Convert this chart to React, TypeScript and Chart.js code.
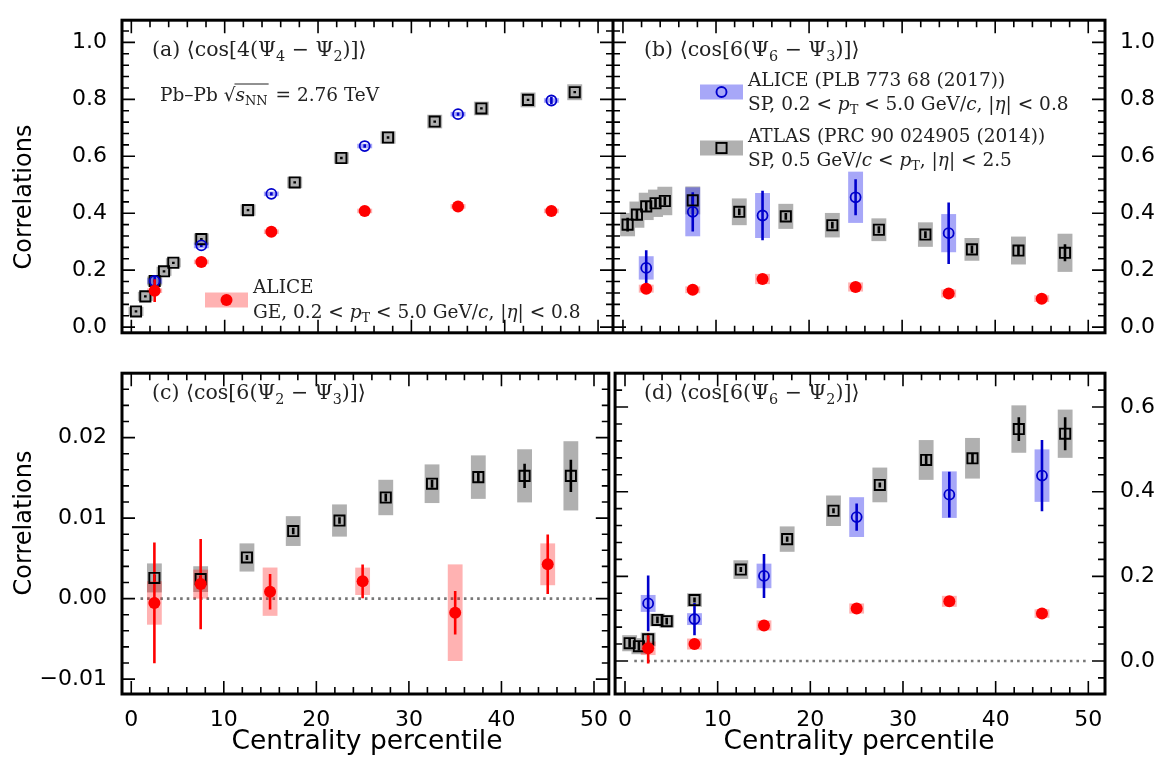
import React, { useEffect, useRef } from "react";
import { Chart, registerables } from "chart.js";
Chart.register(...registerables);

// ---------- data ----------
const centATLAS = [0.5, 1.5, 2.5, 3.5, 4.5, 7.5, 12.5, 17.5, 22.5, 27.5, 32.5, 37.5, 42.5, 47.5];
const centATLASc = [2.5, 7.5, 12.5, 17.5, 22.5, 27.5, 32.5, 37.5, 42.5, 47.5];
const centALICE = [2.5, 7.5, 15, 25, 35, 45];
const centALICEb = [2.5, 7.5, 15, 25, 35];

const aAtlas = [0.055, 0.108, 0.162, 0.196, 0.226, 0.309, 0.411, 0.508, 0.594, 0.666, 0.722, 0.768, 0.798, 0.825];
const aAtlasStat = [0.004, 0.004, 0.004, 0.004, 0.004, 0.004, 0.004, 0.004, 0.004, 0.004, 0.004, 0.004, 0.004, 0.004];
const aAtlasSys = [0.016, 0.016, 0.016, 0.016, 0.016, 0.02, 0.02, 0.02, 0.02, 0.022, 0.024, 0.024, 0.026, 0.028];
const aSP = [0.162, 0.287, 0.468, 0.636, 0.748, 0.796];
const aSPStat = [0.02, 0.006, 0.006, 0.006, 0.006, 0.012];
const aSPSys = [0.01, 0.01, 0.008, 0.008, 0.008, 0.008];
const aGE = [0.128, 0.229, 0.335, 0.408, 0.424, 0.408];
const aGEStat = [0.04, 0.004, 0.004, 0.004, 0.004, 0.004];
const aGESys = [0.008, 0.008, 0.008, 0.008, 0.008, 0.008];

const bAtlas = [0.36, 0.395, 0.424, 0.435, 0.443, 0.445, 0.405, 0.389, 0.358, 0.342, 0.325, 0.273, 0.269, 0.261];
const bAtlasStat = [0.024, 0.02, 0.018, 0.016, 0.016, 0.014, 0.012, 0.012, 0.012, 0.012, 0.012, 0.014, 0.016, 0.03];
const bAtlasSys = [0.041, 0.046, 0.048, 0.048, 0.05, 0.049, 0.047, 0.044, 0.043, 0.04, 0.043, 0.04, 0.049, 0.067];
const bSP = [0.208, 0.405, 0.392, 0.456, 0.33];
const bSPStat = [0.062, 0.069, 0.087, 0.063, 0.108];
const bSPSys = [0.041, 0.086, 0.079, 0.09, 0.067];
const bGE = [0.135, 0.131, 0.169, 0.141, 0.118, 0.1];
const bGEStat = [0.003, 0.003, 0.003, 0.003, 0.003, 0.003];
const bGESys = [0.014, 0.012, 0.018, 0.016, 0.014, 0.012];

const cAtlas = [0.00257, 0.00242, 0.00511, 0.00839, 0.0097, 0.01256, 0.01427, 0.01509, 0.01525, 0.01525];
const cAtlasStat = [0.0004, 0.0004, 0.0003, 0.0004, 0.0004, 0.0005, 0.0005, 0.0006, 0.0015, 0.002];
const cAtlasSys = [0.0018, 0.0016, 0.00175, 0.00185, 0.002, 0.0022, 0.0024, 0.0027, 0.0033, 0.0043];
const cGE = [-0.00054, 0.0018, 0.00086, 0.00215, -0.00175, 0.00426];
const cGEStat = [0.0075, 0.0056, 0.0022, 0.0021, 0.0027, 0.0037];
const cGESys = [0.0027, 0.0018, 0.003, 0.0017, 0.006, 0.0026];

const dAtlas = [0.042, 0.035, 0.051, 0.097, 0.094, 0.144, 0.216, 0.288, 0.355, 0.416, 0.475, 0.479, 0.548, 0.537];
const dAtlasStat = [0.01, 0.01, 0.008, 0.008, 0.008, 0.006, 0.006, 0.006, 0.006, 0.006, 0.012, 0.012, 0.028, 0.039];
const dAtlasSys = [0.019, 0.019, 0.016, 0.015, 0.015, 0.016, 0.022, 0.03, 0.036, 0.041, 0.047, 0.048, 0.056, 0.057];
const dSP = [0.136, 0.099, 0.201, 0.34, 0.393, 0.438];
const dSPStat = [0.066, 0.038, 0.052, 0.032, 0.054, 0.084];
const dSPSys = [0.02, 0.014, 0.029, 0.047, 0.055, 0.062];
const dGE = [0.03, 0.04, 0.084, 0.124, 0.141, 0.112];
const dGEStat = [0.036, 0.004, 0.004, 0.004, 0.004, 0.004];
const dGESys = [0.016, 0.013, 0.012, 0.012, 0.013, 0.01];

const xTicks = [0, 10, 20, 30, 40, 50];
const yTicksAB = [0, 0.2, 0.4, 0.6, 0.8, 1.0];
const yTicksC = [-0.01, 0, 0.01, 0.02];
const yTicksD = [0, 0.2, 0.4, 0.6];

// ---------- styles ----------
const COL = {
  atlas: { box: "rgb(176,176,176)", line: "#000" },
  sp: { box: "rgba(60,60,240,0.45)", line: "#0000cc" },
  ge: { box: "rgba(255,0,0,0.3)", line: "#ff0000" },
};
const TICKFONT = { family: "DejaVu Sans", size: 22 };
const SERIF = "DejaVu Serif";
const TS = 18.5;
const HS = 20.5;

type Seg = { t: string; s?: "i" | "sub" | "subi" | "n" };
function rich(ctx: CanvasRenderingContext2D, x: number, y: number, segs: Seg[], size: number) {
  let cx = x;
  ctx.textBaseline = "alphabetic";
  ctx.textAlign = "left";
  for (const g of segs) {
    const sub = g.s === "sub" || g.s === "subi";
    const it = g.s === "i" || g.s === "subi";
    const fs = sub ? size * 0.7 : size;
    ctx.font = `${it ? "italic " : ""}${fs}px ${SERIF}`;
    ctx.fillText(g.t, cx, y + (sub ? size * 0.22 : 0));
    cx += ctx.measureText(g.t).width;
  }
  return cx;
}

type Series = { x: number[]; y: number[]; stat: number[]; sys: number[]; kind: "atlas" | "sp" | "ge" };

function makeDatasets(series: Series[]) {
  return series.map((s) => {
    const data = s.x.map((x, i) => ({ x, y: s.y[i] }));
    if (s.kind === "atlas")
      return { data, pointStyle: "rect", pointRadius: 7.2, borderColor: "#000", borderWidth: 1.9, backgroundColor: "rgba(0,0,0,0)", showLine: false, order: 3 };
    if (s.kind === "sp")
      return { data, pointStyle: "circle", pointRadius: 5, borderColor: "#0000cc", borderWidth: 1.8, backgroundColor: "rgba(0,0,0,0)", showLine: false, order: 2 };
    return { data, pointStyle: "circle", pointRadius: 6, borderColor: "#ff0000", borderWidth: 0, backgroundColor: "#ff0000", showLine: false, order: 1 };
  });
}

type PanelCfg = {
  left: number; top: number; w: number; h: number;
  yPos: "left" | "right"; yW: number; xH: number; padTop: number;
  xmin: number; xmax: number; ymin: number; ymax: number;
  yTicks: number[]; yMinor: number; yMajor: number; fmt: (v: number) => string;
  series: Series[]; zeroLine: boolean; showX: boolean;
  draw: (ctx: CanvasRenderingContext2D, area: any) => void;
};

function Panel({ cfg }: { cfg: PanelCfg }) {
  const ref = useRef<HTMLCanvasElement>(null);
  useEffect(() => {
    const frame = {
      id: "frame",
      beforeDatasetsDraw(chart: any) {
        const ctx = chart.ctx;
        const xs = chart.scales.x, ys = chart.scales.y;
        const a = chart.chartArea;
        ctx.save();
        ctx.beginPath();
        ctx.rect(a.left, a.top, a.right - a.left, a.bottom - a.top);
        ctx.clip();
        if (cfg.zeroLine) {
          ctx.strokeStyle = "#777";
          ctx.lineWidth = 2.6;
          ctx.setLineDash([2.6, 4]);
          ctx.beginPath();
          ctx.moveTo(xs.getPixelForValue(1), ys.getPixelForValue(0));
          ctx.lineTo(xs.getPixelForValue(50), ys.getPixelForValue(0));
          ctx.stroke();
          ctx.setLineDash([]);
        }
        const order = ["atlas", "sp", "ge"];
        for (const k of order) {
          for (const s of cfg.series.filter((q) => q.kind === k)) {
            const c = (COL as any)[k];
            s.x.forEach((x, i) => {
              const x0 = xs.getPixelForValue(x - 0.8), x1 = xs.getPixelForValue(x + 0.8);
              const y0 = ys.getPixelForValue(s.y[i] + s.sys[i]), y1 = ys.getPixelForValue(s.y[i] - s.sys[i]);
              ctx.fillStyle = c.box;
              ctx.fillRect(x0, y0, x1 - x0, y1 - y0);
            });
          }
        }
        for (const k of order) {
          for (const s of cfg.series.filter((q) => q.kind === k)) {
            const c = (COL as any)[k];
            ctx.strokeStyle = c.line;
            ctx.lineWidth = 2.6;
            s.x.forEach((x, i) => {
              const px = xs.getPixelForValue(x);
              ctx.beginPath();
              ctx.moveTo(px, ys.getPixelForValue(s.y[i] + s.stat[i]));
              ctx.lineTo(px, ys.getPixelForValue(s.y[i] - s.stat[i]));
              ctx.stroke();
            });
          }
        }
        ctx.restore();
      },
      afterDraw(chart: any) {
        const ctx = chart.ctx;
        const xs = chart.scales.x, ys = chart.scales.y;
        const a = chart.chartArea;
        ctx.save();
        ctx.strokeStyle = "#000";
        ctx.lineWidth = 1.6;
        for (let v = 0; v <= 50.001; v += 2) {
          const major = Math.abs(v % 10) < 1e-6;
          const L = major ? 13 : 7;
          const px = xs.getPixelForValue(v);
          ctx.beginPath();
          ctx.moveTo(px, a.bottom); ctx.lineTo(px, a.bottom - L);
          ctx.moveTo(px, a.top); ctx.lineTo(px, a.top + L);
          ctx.stroke();
        }
        const n0 = Math.ceil(cfg.ymin / cfg.yMinor - 1e-6), n1 = Math.floor(cfg.ymax / cfg.yMinor + 1e-6);
        for (let n = n0; n <= n1; n++) {
          const v = n * cfg.yMinor;
          const r = v / cfg.yMajor;
          const major = Math.abs(r - Math.round(r)) < 1e-6;
          const L = major ? 13 : 7;
          const py = ys.getPixelForValue(v);
          ctx.beginPath();
          ctx.moveTo(a.left, py); ctx.lineTo(a.left + L, py);
          ctx.moveTo(a.right, py); ctx.lineTo(a.right - L, py);
          ctx.stroke();
        }
        ctx.lineWidth = 3;
        ctx.strokeRect(a.left, a.top, a.right - a.left, a.bottom - a.top);
        ctx.fillStyle = "#000";
        cfg.draw(ctx, a);
        ctx.restore();
      },
    };
    const yScale: any = {
      type: "linear", position: cfg.yPos, min: cfg.ymin, max: cfg.ymax,
      grid: { display: false }, border: { display: false },
      afterBuildTicks: (s: any) => { s.ticks = cfg.yTicks.map((v) => ({ value: v })); },
      afterFit: (s: any) => { s.width = cfg.yW; },
      ticks: { font: TICKFONT, color: "#000", padding: 7, callback: (v: any) => cfg.fmt(Number(v)) },
    };
    const xScale: any = {
      type: "linear", position: "bottom", min: cfg.xmin, max: cfg.xmax, display: cfg.showX,
      grid: { display: false }, border: { display: false },
      afterBuildTicks: (s: any) => { s.ticks = xTicks.map((v) => ({ value: v })); },
      afterFit: (s: any) => { s.height = cfg.xH; },
      ticks: { font: TICKFONT, color: "#000", padding: 5, maxRotation: 0, autoSkip: false, callback: (v: any) => String(v) },
    };
    const chart = new Chart(ref.current!, {
      type: "scatter",
      data: { datasets: makeDatasets(cfg.series) as any },
      options: {
        animation: false, responsive: false, maintainAspectRatio: false,
        layout: { autoPadding: false, padding: { top: cfg.padTop, left: 0, right: 0, bottom: 0 } },
        plugins: { legend: { display: false }, tooltip: { enabled: false } },
        scales: { x: xScale, y: yScale },
        clip: false as any,
      },
      plugins: [frame],
    });
    return () => chart.destroy();
  }, []);
  return (
    <canvas ref={ref} width={cfg.w} height={cfg.h}
      style={{ position: "absolute", left: cfg.left, top: cfg.top, width: cfg.w, height: cfg.h }} />
  );
}

const f1 = (v: number) => v.toFixed(1);
const f2 = (v: number) => (v < 0 ? "\u2212" + Math.abs(v).toFixed(2) : v.toFixed(2));

function legendBox(ctx: CanvasRenderingContext2D, x: number, y: number, kind: "atlas" | "sp" | "ge") {
  ctx.fillStyle = (COL as any)[kind].box;
  ctx.fillRect(x, y - 7.5, 43, 15);
  const cx = x + 21.5;
  ctx.lineWidth = 1.9;
  if (kind === "atlas") { ctx.strokeStyle = "#000"; ctx.strokeRect(cx - 5.1, y - 5.1, 10.2, 10.2); }
  else if (kind === "sp") { ctx.strokeStyle = "#0000cc"; ctx.beginPath(); ctx.arc(cx, y, 5, 0, Math.PI * 2); ctx.stroke(); }
  else { ctx.fillStyle = "#ff0000"; ctx.beginPath(); ctx.arc(cx, y, 6, 0, Math.PI * 2); ctx.fill(); }
}

const TXT = "#222";
const panels: PanelCfg[] = [
  {
    left: 0, top: 0, w: 613, h: 353, yPos: "left", yW: 122, xH: 0, padTop: 11.7,
    xmin: -1, xmax: 51.6, ymin: -0.02, ymax: 1.078, yTicks: yTicksAB, yMinor: 0.04, yMajor: 0.2, fmt: f1,
    zeroLine: false, showX: false,
    series: [
      { x: centATLAS, y: aAtlas, stat: aAtlasStat, sys: aAtlasSys, kind: "atlas" },
      { x: centALICE, y: aSP, stat: aSPStat, sys: aSPSys, kind: "sp" },
      { x: centALICE, y: aGE, stat: aGEStat, sys: aGESys, kind: "ge" },
    ],
    draw: (ctx) => {
      ctx.fillStyle = TXT;
      rich(ctx, 152, 56, [{ t: "(a) \u27E8cos[4(\u03A8" }, { t: "4", s: "sub" }, { t: " \u2212 \u03A8" }, { t: "2", s: "sub" }, { t: ")]\u27E9" }], HS);
      const e = rich(ctx, 160, 101, [{ t: "Pb\u2013Pb " }], TS);
      ctx.font = `${TS}px ${SERIF}`;
      ctx.fillText("\u221A", e, 101);
      const s0 = e + ctx.measureText("\u221A").width;
      const s1 = rich(ctx, s0, 101, [{ t: "s", s: "i" }, { t: "NN", s: "sub" }], TS);
      ctx.strokeStyle = TXT; ctx.lineWidth = 1;
      ctx.beginPath(); ctx.moveTo(s0 - 1, 84); ctx.lineTo(s1 + 1, 84); ctx.stroke();
      rich(ctx, s1 + 2, 101, [{ t: " = 2.76 TeV" }], TS);
      legendBox(ctx, 205, 300, "ge");
      ctx.fillStyle = TXT;
      rich(ctx, 253, 293, [{ t: "ALICE" }], TS);
      rich(ctx, 253, 318, [{ t: "GE, 0.2 < " }, { t: "p", s: "i" }, { t: "T", s: "sub" }, { t: " < 5.0 GeV/" }, { t: "c", s: "i" }, { t: ", |" }, { t: "\u03B7", s: "i" }, { t: "| < 0.8" }], TS);
      ctx.save();
      ctx.fillStyle = "#000";
      ctx.font = "24px DejaVu Sans";
      ctx.textAlign = "center"; ctx.textBaseline = "middle";
      ctx.translate(25, 197); ctx.rotate(-Math.PI / 2);
      ctx.fillText("Correlations", 0, 0);
      ctx.restore();
    },
  },
  {
    left: 613, top: 0, w: 542, h: 353, yPos: "right", yW: 50, xH: 0, padTop: 11.7,
    xmin: -1.07, xmax: 51.8, ymin: -0.02, ymax: 1.078, yTicks: yTicksAB, yMinor: 0.04, yMajor: 0.2, fmt: f1,
    zeroLine: false, showX: false,
    series: [
      { x: centATLAS, y: bAtlas, stat: bAtlasStat, sys: bAtlasSys, kind: "atlas" },
      { x: centALICEb, y: bSP, stat: bSPStat, sys: bSPSys, kind: "sp" },
      { x: centALICE, y: bGE, stat: bGEStat, sys: bGESys, kind: "ge" },
    ],
    draw: (ctx) => {
      ctx.fillStyle = TXT;
      rich(ctx, 31, 56, [{ t: "(b) \u27E8cos[6(\u03A8" }, { t: "6", s: "sub" }, { t: " \u2212 \u03A8" }, { t: "3", s: "sub" }, { t: ")]\u27E9" }], HS);
      legendBox(ctx, 87, 92, "sp");
      legendBox(ctx, 87, 148, "atlas");
      ctx.fillStyle = TXT;
      rich(ctx, 135, 86, [{ t: "ALICE (PLB 773 68 (2017))" }], TS);
      rich(ctx, 135, 110, [{ t: "SP, 0.2 < " }, { t: "p", s: "i" }, { t: "T", s: "sub" }, { t: " < 5.0 GeV/" }, { t: "c", s: "i" }, { t: ", |" }, { t: "\u03B7", s: "i" }, { t: "| < 0.8" }], TS);
      rich(ctx, 135, 142, [{ t: "ATLAS (PRC 90 024905 (2014))" }], TS);
      rich(ctx, 135, 166, [{ t: "SP, 0.5 GeV/" }, { t: "c", s: "i" }, { t: " < " }, { t: "p", s: "i" }, { t: "T", s: "sub" }, { t: ", |" }, { t: "\u03B7", s: "i" }, { t: "| < 2.5" }], TS);
    },
  },
  {
    left: 0, top: 353, w: 613, h: 407, yPos: "left", yW: 122, xH: 66, padTop: 0,
    xmin: -1, xmax: 51.6, ymin: -0.01185, ymax: 0.028, yTicks: yTicksC, yMinor: 0.002, yMajor: 0.01, fmt: f2,
    zeroLine: true, showX: true,
    series: [
      { x: centATLASc, y: cAtlas, stat: cAtlasStat, sys: cAtlasSys, kind: "atlas" },
      { x: centALICE, y: cGE, stat: cGEStat, sys: cGESys, kind: "ge" },
    ],
    draw: (ctx) => {
      ctx.fillStyle = TXT;
      rich(ctx, 152, 46, [{ t: "(c) \u27E8cos[6(\u03A8" }, { t: "2", s: "sub" }, { t: " \u2212 \u03A8" }, { t: "3", s: "sub" }, { t: ")]\u27E9" }], HS);
      ctx.fillStyle = "#000";
      ctx.font = "26.5px DejaVu Sans";
      ctx.textAlign = "center"; ctx.textBaseline = "middle";
      ctx.fillText("Centrality percentile", 367, 389);
      ctx.save();
      ctx.font = "24px DejaVu Sans";
      ctx.translate(25, 170); ctx.rotate(-Math.PI / 2);
      ctx.fillText("Correlations", 0, 0);
      ctx.restore();
    },
  },
  {
    left: 613, top: 353, w: 542, h: 407, yPos: "right", yW: 50, xH: 66, padTop: 0,
    xmin: -1.07, xmax: 51.8, ymin: -0.078, ymax: 0.68, yTicks: yTicksD, yMinor: 0.04, yMajor: 0.2, fmt: f1,
    zeroLine: true, showX: true,
    series: [
      { x: centATLAS, y: dAtlas, stat: dAtlasStat, sys: dAtlasSys, kind: "atlas" },
      { x: centALICE, y: dSP, stat: dSPStat, sys: dSPSys, kind: "sp" },
      { x: centALICE, y: dGE, stat: dGEStat, sys: dGESys, kind: "ge" },
    ],
    draw: (ctx) => {
      ctx.fillStyle = TXT;
      rich(ctx, 31, 46, [{ t: "(d) \u27E8cos[6(\u03A8" }, { t: "6", s: "sub" }, { t: " \u2212 \u03A8" }, { t: "2", s: "sub" }, { t: ")]\u27E9" }], HS);
      ctx.fillStyle = "#000";
      ctx.font = "26.5px DejaVu Sans";
      ctx.textAlign = "center"; ctx.textBaseline = "middle";
      ctx.fillText("Centrality percentile", 246, 389);
    },
  },
];

export default function App() {
  return (
    <div style={{ position: "fixed", left: 0, top: 0, width: 1155, height: 760, background: "#fff" }}>
      {panels.map((p, i) => <Panel key={i} cfg={p} />)}
    </div>
  );
}
